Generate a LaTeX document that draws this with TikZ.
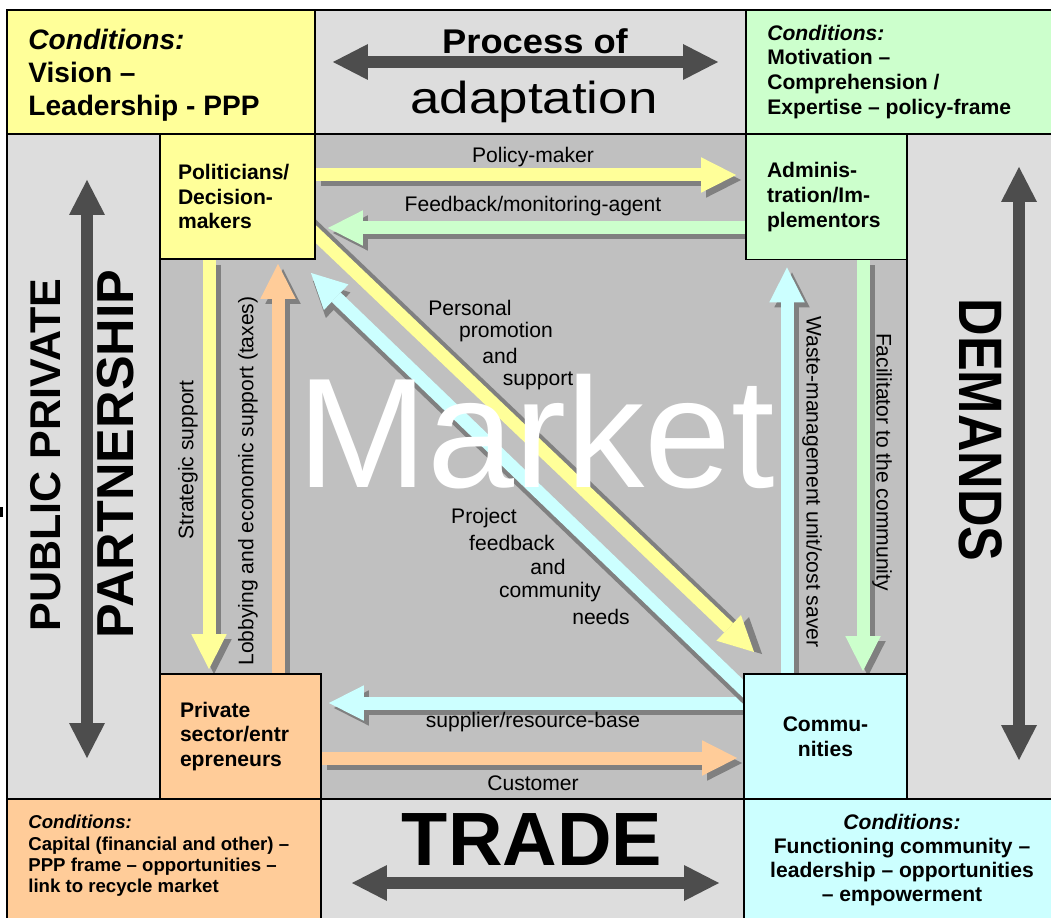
\documentclass[tikz,border=0pt]{standalone}
\usepackage{fontspec}
\setmainfont{Liberation Sans}
\usepackage{graphicx}
\usetikzlibrary{arrows.meta}
\definecolor{ppyel}{RGB}{255,255,153}
\definecolor{ppgrn}{RGB}{204,255,204}
\definecolor{pporg}{RGB}{255,204,153}
\definecolor{ppcyn}{RGB}{204,255,255}
\definecolor{panel}{RGB}{221,221,221}
\definecolor{market}{RGB}{192,192,192}
\definecolor{shadowgray}{RGB}{128,128,128}
\definecolor{ink}{RGB}{77,77,77}
\pgfdeclarelayer{back}
\pgfdeclarelayer{flows}
\pgfsetlayers{back,flows,main}

\begin{document}
\begin{tikzpicture}[x=0.02cm, y=-0.02cm,
    cell/.style={draw=black, line width=1pt},
    actor/.style={draw=black, line width=1.1pt, inner xsep=0.36cm, inner ysep=0pt,
                  align=left, minimum height=2.5cm,
                  font=\fontsize{12}{14}\selectfont\bfseries},
    flow/.style={line width=0.26cm,
                 -{Triangle[width=0.71cm, length=0.7cm, line width=0pt]}},
    sh/.style={flow, draw=shadowgray, transform canvas={xshift=0.1cm, yshift=-0.1cm}},
    shyel/.style={flow, draw=shadowgray, transform canvas={xshift=0.16cm, yshift=-0.04cm}},
    shcyn/.style={flow, draw=shadowgray, transform canvas={xshift=0.04cm, yshift=-0.16cm}},
    big/.style={draw=ink, line width=0.24cm,
                {Triangle[width=0.72cm, length=0.7cm, line width=0pt]}-{Triangle[width=0.72cm, length=0.7cm, line width=0pt]}},
    lab/.style={font=\fontsize{12}{14}\selectfont, inner sep=0pt},
    cond/.style={anchor=west, align=left, inner sep=0pt}]
  % page is pinned to the panel grid; the right and bottom cells run off it
  \useasboundingbox (0,0) rectangle (1051,918);
  % --- panel grid -----------------------------------------------------------
  \begin{pgfonlayer}{back}
    \foreach \xa/\ya/\xb/\yb/\c in {7/10/315/134/ppyel, 315/10/746/134/panel,
        746/10/1060/134/ppgrn, 7/134/160/799/panel, 160/134/907/799/market,
        907/134/1060/799/panel, 7/799/321/930/pporg, 321/799/744/930/panel,
        744/799/1060/930/ppcyn}
      \filldraw[cell, fill=\c] (\xa,\ya) rectangle (\xb,\yb);
    \fill (0,507) rectangle (3,517);
  \end{pgfonlayer}
  % --- the four actors --------------------------------------------------------
  \node[actor, fill=ppyel, minimum width=3.1cm, text width=2.38cm]
    (pol) at (237.5,196.5) {Politicians/\\Decision-\\makers};
  \node[actor, fill=ppgrn, minimum width=3.22cm, inner xsep=0.42cm, text width=2.38cm]
    (adm) at (826.5,197) {Adminis-\\tration/Im-\\plementors};
  \node[actor, fill=pporg, minimum width=3.22cm, inner xsep=0.4cm, text width=2.42cm]
    (prv) at (240.5,736.5) {Private\\sector/entr\\epreneurs};
  \node[actor, fill=ppcyn, minimum width=3.26cm, align=center, text width=2.5cm]
    (com) at (825.5,736.5) {Commu-\\nities};
  % --- flows between the actors: gray copy first, then the coloured one -----
  \begin{pgfonlayer}{flows}
    \draw[sh, shorten >=0.18cm] (pol.east |- 0,175) -- (adm.west |- 0,175);
    \draw[flow, draw=ppyel, shorten >=0.18cm] (pol.east |- 0,175) -- (adm.west |- 0,175);
    \draw[sh, shorten >=0.24cm] (adm.west |- 0,228) -- (pol.east |- 0,228);
    \draw[flow, draw=ppgrn, shorten >=0.24cm] (adm.west |- 0,228) -- (pol.east |- 0,228);
    \draw[sh, shorten >=0.08cm] (pol.south -| 209,0) -- (prv.north -| 209,0);
    \draw[flow, draw=ppyel, shorten >=0.08cm] (pol.south -| 209,0) -- (prv.north -| 209,0);
    \draw[sh, shorten >=0.08cm] (prv.north -| 278,0) -- (pol.south -| 278,0);
    \draw[flow, draw=pporg, shorten >=0.08cm] (prv.north -| 278,0) -- (pol.south -| 278,0);
    \draw[sh, shorten >=0.14cm] (com.north -| 787,0) -- (adm.south -| 787,0);
    \draw[flow, draw=ppcyn, shorten >=0.14cm] (com.north -| 787,0) -- (adm.south -| 787,0);
    \draw[sh, shorten >=0.04cm] (adm.south -| 863,0) -- (com.north -| 863,0);
    \draw[flow, draw=ppgrn, shorten >=0.04cm] (adm.south -| 863,0) -- (com.north -| 863,0);
    \draw[sh, shorten >=0.14cm] (com.west |- 0,703) -- (prv.east |- 0,703);
    \draw[flow, draw=ppcyn, shorten >=0.14cm] (com.west |- 0,703) -- (prv.east |- 0,703);
    \draw[sh, shorten >=0.12cm] (prv.east |- 0,758) -- (com.west |- 0,758);
    \draw[flow, draw=pporg, shorten >=0.12cm] (prv.east |- 0,758) -- (com.west |- 0,758);
    % the two diagonals throw their shadow sideways
    \draw[shyel] ([shift={(-15,-40)}]pol.south east) -- ([shift={(11,-21)}]com.north west);
    \draw[flow, draw=ppyel]
      ([shift={(-15,-40)}]pol.south east) -- ([shift={(11,-21)}]com.north west);
    \draw[shcyn] ([shift={(16,31)}]com.north west) -- ([shift={(-5,13)}]pol.south east);
    \draw[flow, draw=ppcyn]
      ([shift={(16,31)}]com.north west) -- ([shift={(-5,13)}]pol.south east);
    \node[font=\fontsize{89}{89}\selectfont, text=white, inner sep=0pt]
      (mkt) at (536,432) {Market};
  \end{pgfonlayer}
  % --- flow labels ------------------------------------------------------------
  \node[lab] (lpol) at (533,157) {Policy-maker};
  \node[lab] (lfb)  at (533,206) {Feedback/monitoring-agent};
  \node[lab] (lsup) at (533,722) {supplier/resource-base};
  \node[lab] (lcus) at (533,783) {Customer};
  \node[lab, rotate=90]  (lstr) at (188,460) {Strategic support};
  \node[lab, rotate=90]  (llob) at (248,481) {Lobbying and economic support (taxes)};
  \node[lab, rotate=-90] (lwst) at (812,482) {Waste-management unit/cost saver};
  \node[lab, rotate=-90] (lfac) at (882,462) {Facilitator to the community};
  \foreach \t/\x/\y [count=\i] in {Personal/470/308, promotion/506/332,
      and/500/356, support/538/381}
    \node[lab] (pp\i) at (\x,\y) {\t};
  \foreach \t/\x/\y [count=\i] in {Project/484/518, feedback/512/543,
      and/548/567, community/550/592, needs/601/617}
    \node[lab] (pf\i) at (\x,\y) {\t};
  % --- big two-way arrows and their titles -------------------------------------
  \coordinate (adL) at (333,62);   \coordinate (adR) at (718,62);
  \coordinate (trL) at (352,883);  \coordinate (trR) at (719,883);
  \coordinate (ppT) at (87,180);   \coordinate (ppB) at (87,758);
  \coordinate (dmT) at (1019,167); \coordinate (dmB) at (1019,760);
  \draw[big] (adL) -- (adR);
  \draw[big] (trL) -- (trR);
  \draw[big] (ppT) -- (ppB);
  \draw[big] (dmT) -- (dmB);
  \node[font=\fontsize{19.5}{20}\selectfont\bfseries] (proc) at (535,41)
    {\scalebox{1.06}[1]{Process of}};
  \node[font=\fontsize{25.5}{26}\selectfont] (adapt) at (534,102)
    {\scalebox{1.18}[1]{adaptation}};
  \node[font=\fontsize{43}{44}\selectfont\bfseries] (trade) at (532,840) {TRADE};
  \node[font=\fontsize{24.5}{25}\selectfont\bfseries, rotate=90] (ppub) at (46,455)
    {PUBLIC PRIVATE};
  \node[font=\fontsize{29.6}{30}\selectfont\bfseries, rotate=90] (ppart) at (116,454)
    {PARTNERSHIP};
  \node[font=\fontsize{29.6}{30}\selectfont\bfseries, rotate=-90] (dem) at (981,430)
    {\scalebox{1}[1.18]{DEMANDS}};
  % --- conditions in the corners --------------------------------------------
  \node[cond, font=\fontsize{16}{18.8}\selectfont\bfseries] (ctl) at (28,75)
    {\textit{Conditions:}\\Vision --\\Leadership - PPP};
  \node[cond, font=\fontsize{12}{14.2}\selectfont\bfseries] (ctr) at (767,72)
    {\textit{Conditions:}\\Motivation --\\Comprehension /\\Expertise -- policy-frame};
  \node[cond, font=\fontsize{10.6}{12.2}\selectfont\bfseries] (cbl) at (28,856)
    {\textit{Conditions:}\\Capital (financial and other) --\\PPP frame -- opportunities --\\link to recycle market};
  \node[cond, anchor=center, align=center, font=\fontsize{12}{13.8}\selectfont\bfseries]
    (cbr) at (902,860)
    {\textit{Conditions:}\\Functioning community --\\leadership -- opportunities\\-- empowerment};
\end{tikzpicture}
\end{document}
